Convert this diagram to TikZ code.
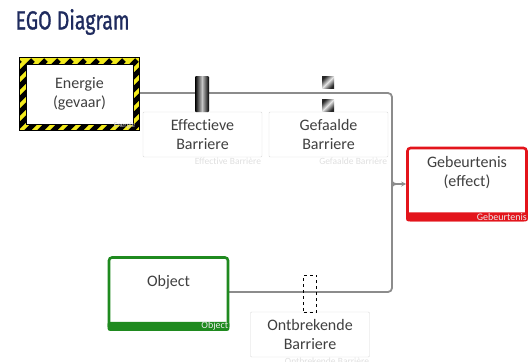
\documentclass[tikz,border=0pt]{standalone}
\usepackage{fontspec}
\setmainfont[Ligatures={NoCommon,NoRare,NoDiscretionary}]{Carlito}
\newfontfamily\titlefont[FakeBold=1.2]{Fira Sans}
\usetikzlibrary{arrows.meta}
\definecolor{egonavy}{HTML}{1F2B5E}
\definecolor{egored}{HTML}{E3141B}
\definecolor{egogreen}{HTML}{1F8A1F}
\definecolor{egoline}{HTML}{8C8C8C}
\definecolor{hazard}{HTML}{F2EA1C}

\tikzset{
  box/.style={draw=gray!30, fill=white, rounded corners=1pt, minimum width=119pt, minimum height=45pt,
              inner sep=0pt, align=center, font=\fontsize{16}{19}\selectfont, text=black!75},
  bigbox/.style={box, minimum height=72pt, line width=2.6pt, rounded corners=3pt},
  caption/.style={font=\fontsize{9.5}{10}\selectfont, text=gray!25, inner sep=1pt, anchor=north east},
  band/.style={font=\fontsize{10}{10}\selectfont, text=white!92!black, inner sep=0.8pt, anchor=south east},
  conn/.style={draw=egoline, line width=1.8pt},
  barrier/.style={minimum width=14pt, minimum height=36pt, inner sep=0pt, rounded corners=1pt,
                  left color=black, right color=black, middle color=gray!45},
  smallbar/.style={minimum size=12pt, inner sep=0pt,
                   left color=black!85, right color=black!85, middle color=gray!20, shading angle=45}
}

\begin{document}
\begin{tikzpicture}[x=1pt, y=-1pt]
\useasboundingbox (0,0) rectangle (531,362);

\node[anchor=west, text=egonavy, font=\titlefont\fontsize{26}{30}\selectfont, xscale=.75, transform shape]
  (title) at (13,22) {EGO Diagram};

% main line
\coordinate (cornerA) at (392,93);
\coordinate (cornerB) at (392,292);
\coordinate (jn) at (392,184);

\node[box, minimum height=72pt] (energie) at (79.5,94) {Energie\\(gevaar)};
\draw[conn, rounded corners=4pt] (energie.east |- cornerA) -- (cornerA) -- (cornerB) -- (228,292);

% hazard frame
\begin{scope}[even odd rule]
  \clip (energie.south west) rectangle (energie.north east)
        ([shift={(6,-6)}]energie.south west) rectangle ([shift={(-6,6)}]energie.north east);
  \fill[hazard] (energie.south west) rectangle (energie.north east);
  \foreach \i in {-60,-47,...,220}
    \draw[line width=5pt] (\i,140) -- (\i+80,60);
\end{scope}
\draw[line width=.9pt] (energie.south west) rectangle (energie.north east);
\draw[line width=.5pt] ([shift={(6,-6)}]energie.south west) rectangle ([shift={(-6,6)}]energie.north east);
\node[band, text=gray!40, font=\fontsize{7}{7}\selectfont] at ([xshift=-3pt,yshift=0.5pt]energie.south east) {Energie};

% barriers on the line
\node[box] (effbox) at (202.5,134.5) {Effectieve\\Barriere};
\node[caption] at (effbox.south east) {Effective Barri\`ere};
\node[barrier] (effbar) at (202,94) {};

\node[box] (gefbox) at (328.5,134.5) {Gefaalde\\Barriere};
\node[caption] at (gefbox.south east) {Gefaalde Barri\`ere};
\node[smallbar] (gefbarA) at (328,82) {};
\node[smallbar] (gefbarB) at (328,105) {};

% effect
\node[bigbox, draw=egored] (gebeurtenis) at (467,184) {Gebeurtenis\\(effect)\\[7pt]};
\fill[egored, rounded corners=2pt] ([yshift=9pt]gebeurtenis.south west) rectangle (gebeurtenis.south east);
\node[band] at (gebeurtenis.south east) {Gebeurtenis};
\draw[conn] (392,177) .. controls (392,183) .. (396,184);
\draw[conn] (392,191) .. controls (392,185) .. (396,184);
\draw[conn, -{Stealth[length=5pt,width=5pt]}] (396,184) -- (gebeurtenis.west);

% object
\node[bigbox, draw=egogreen] (object) at (168.5,293.5) {Object\\[7pt]};
\fill[egogreen, rounded corners=2pt] ([yshift=9pt]object.south west) rectangle (object.south east);
\node[band] at (object.south east) {Object};

\node[box] (ontbox) at (310,334.5) {Ontbrekende\\Barriere};
\node[caption, inner sep=0.5pt] at (ontbox.south east) {Ontbrekende Barri\`ere};
\node[draw, dashed, minimum width=13pt, minimum height=37pt, inner sep=0pt]
  (ontbar) at (310,293.5) {};
\end{tikzpicture}
\end{document}
